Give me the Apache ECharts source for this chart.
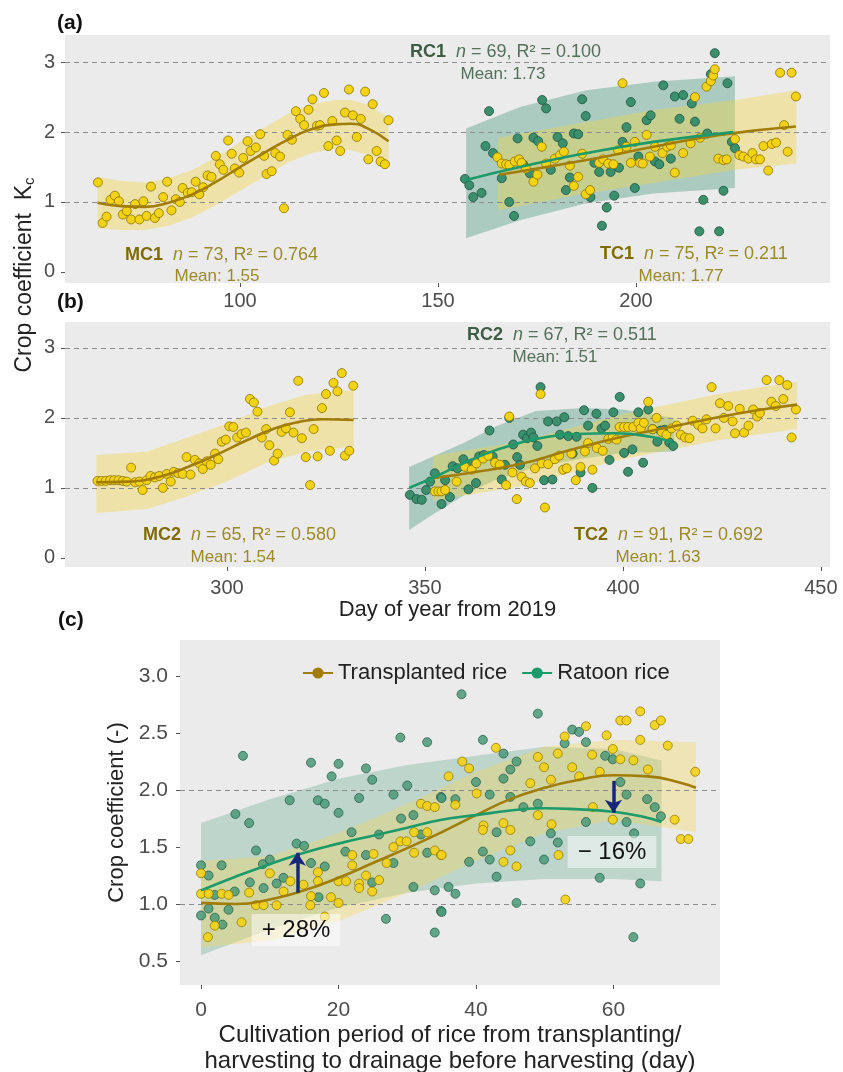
<!DOCTYPE html>
<html>
<head>
<meta charset="utf-8">
<script src="https://cdn.jsdelivr.net/npm/echarts@6/dist/echarts.min.js"></script>
<style>
  html, body { margin: 0; padding: 0; background: #fff; }
  #chart { width: 843px; height: 1072px; }
</style>
</head>
<body>
<div id="chart"></div>
<script>
// ---- panel (a): points [day, Kc] ----
var mc1Points = [[64.1,1.28],[65.3,0.70],[66.3,0.79],[67.3,1.03],[68.4,1.09],[69.4,1.01],[70.4,0.82],[71.4,0.87],[72.5,0.75],[73.5,0.97],[74.6,0.75],[75.6,1.01],[76.4,0.80],[77.5,1.22],[78.5,0.77],[79.5,0.84],[80.6,1.07],[81.6,1.29],[82.7,0.88],[83.8,1.04],[84.8,1.00],[85.5,1.20],[86.8,1.13],[87.8,1.14],[88.8,1.29],[89.7,1.11],[90.7,1.21],[91.8,1.38],[92.8,1.36],[93.9,1.66],[94.9,1.54],[95.8,1.46],[97.0,1.88],[97.9,1.69],[98.7,1.48],[99.8,1.42],[100.8,1.63],[101.9,1.87],[102.7,1.73],[104.0,1.78],[105.1,1.97],[106.1,1.66],[106.7,1.40],[108.0,1.44],[108.9,1.70],[110.1,1.65],[111.1,0.91],[112.0,1.96],[113.1,1.89],[114.1,2.30],[115.2,2.19],[116.2,2.10],[117.3,2.32],[118.3,2.47],[119.4,2.09],[120.2,2.10],[121.2,2.56],[122.3,1.80],[123.3,2.16],[124.4,1.88],[125.3,1.73],[126.5,2.28],[127.5,2.61],[128.5,2.24],[129.5,1.93],[130.5,2.19],[131.6,2.58],[132.4,1.61],[133.5,2.40],[134.5,1.73],[135.5,1.58],[136.6,1.54],[137.5,2.17]];
var rc1Points = [[156.8,1.33],[157.9,1.24],[158.9,1.07],[161.0,1.13],[162.0,1.80],[162.9,2.30],[163.9,1.70],[166.1,1.34],[168.0,1.00],[169.2,0.80],[170.1,1.91],[171.5,1.54],[173.2,1.41],[174.1,1.92],[175.3,1.87],[176.3,2.46],[177.3,2.34],[178.5,1.46],[180.2,1.93],[181.5,1.84],[182.3,1.17],[183.3,1.35],[184.3,1.98],[185.4,1.97],[186.4,2.47],[187.3,2.23],[188.5,1.07],[189.5,1.56],[190.7,1.43],[191.4,0.66],[192.6,0.92],[193.6,1.43],[194.5,1.09],[195.7,1.49],[196.6,1.86],[197.6,2.07],[198.7,2.43],[199.7,1.20],[200.6,1.65],[202.7,2.17],[203.7,2.24],[204.8,1.58],[205.9,1.54],[206.9,2.67],[208.8,1.62],[209.8,2.51],[211.0,2.19],[211.9,2.53],[214.1,2.41],[214.9,2.15],[216.0,0.58],[217.0,1.03],[218.0,1.98],[218.9,2.83],[219.9,3.13],[221.0,0.58],[222.1,1.16],[223.1,2.70],[224.2,1.86],[225.0,1.77]];
var tc1Points = [[165.0,1.64],[166.1,1.55],[167.2,1.54],[168.0,1.53],[169.4,1.58],[170.5,1.61],[171.1,1.56],[172.2,1.48],[174.1,1.29],[175.1,1.39],[176.2,1.79],[177.3,1.55],[179.5,1.62],[180.8,1.67],[181.8,1.72],[183.3,1.52],[184.3,1.23],[185.4,1.36],[186.4,1.69],[187.3,1.11],[188.4,1.17],[190.7,1.56],[191.7,1.61],[193.0,1.55],[194.3,1.54],[195.5,1.74],[196.6,2.70],[197.6,1.79],[198.7,1.56],[199.7,1.86],[201.0,1.56],[201.7,1.55],[202.7,1.96],[203.5,1.65],[204.8,1.79],[206.7,1.70],[207.9,1.79],[208.8,1.81],[209.8,1.42],[211.9,1.70],[213.8,1.84],[214.9,2.50],[216.2,1.92],[217.8,2.65],[218.9,2.73],[219.5,2.81],[219.9,2.90],[220.8,1.62],[222.1,1.60],[222.9,1.61],[225.0,1.90],[226.1,1.67],[227.1,1.65],[228.4,1.62],[229.4,1.70],[230.3,1.61],[231.3,1.61],[232.2,1.80],[233.4,1.45],[234.3,1.83],[235.4,1.85],[236.4,2.85],[237.4,2.10],[238.3,1.72],[239.3,2.85],[240.4,2.51]];

// ---- panel (a): fitted curves [day, Kc] and bands [day, low, high] ----
var mc1Fit = [[64,0.99],[70,0.94],[76,0.93],[82,0.99],[88,1.11],[94,1.29],[100,1.50],[106,1.70],[112,1.89],[118,2.04],[124,2.11],[128,2.12],[132,2.06],[137.5,1.87]];
var mc1Band = [[64,0.62,1.36],[70,0.60,1.30],[76,0.60,1.28],[82,0.66,1.34],[88,0.78,1.46],[94,0.96,1.64],[100,1.16,1.86],[106,1.36,2.06],[112,1.56,2.26],[118,1.70,2.40],[124,1.76,2.46],[128,1.74,2.46],[132,1.68,2.40],[137.5,1.53,2.21]];
var rc1Fit = [[156.8,1.31],[170.7,1.50],[187.5,1.70],[204.4,1.86],[224.6,2.00]];
var rc1Band = [[157.1,0.48,2.05],[170.7,0.74,2.36],[187.5,0.98,2.60],[204.4,1.12,2.72],[225.0,1.20,2.80]];
var tc1Fit = [[165.5,1.39],[187.5,1.60],[204.4,1.79],[221.2,1.96],[240.4,2.08]];
var tc1Band = [[165.2,0.88,1.92],[185,1.10,2.12],[205,1.28,2.32],[225,1.46,2.46],[240.5,1.55,2.60]];

// ---- panel (b) ----
var mc2Points = [[267.3,1.10],[268.3,1.10],[269.4,1.10],[270.5,1.11],[271.5,1.11],[272.6,1.11],[273.7,1.10],[274.7,1.09],[275.8,1.29],[276.8,1.08],[277.9,1.09],[278.7,0.97],[279.7,1.11],[280.7,1.17],[281.8,1.15],[282.9,1.17],[283.8,1.00],[284.8,1.20],[285.8,1.09],[286.6,1.23],[287.7,1.21],[288.8,1.20],[289.8,1.44],[290.8,1.19],[291.9,1.40],[293.0,1.35],[293.9,1.27],[294.9,1.38],[295.9,1.33],[297.0,1.49],[297.8,1.41],[298.7,1.66],[299.7,1.69],[300.6,1.88],[301.6,1.87],[302.6,1.72],[303.7,1.77],[304.8,1.79],[305.8,2.27],[306.8,2.22],[307.7,2.09],[308.8,1.72],[309.9,1.84],[310.7,1.61],[311.9,1.39],[312.8,1.49],[313.8,1.80],[314.9,1.85],[315.9,2.08],[316.8,1.79],[318.0,2.53],[318.9,1.71],[319.9,1.44],[321.0,1.04],[321.9,1.84],[322.9,1.45],[324.0,2.14],[325.0,2.34],[326.0,1.53],[326.9,2.50],[327.9,2.38],[329.0,2.64],[329.8,1.46],[330.9,1.53],[331.9,2.46]];
var rc2Points = [[346.2,0.90],[347.9,0.84],[349.2,0.83],[350.3,0.97],[351.3,1.09],[352.5,1.21],[354.2,0.77],[355.1,1.11],[356.3,0.87],[357.0,1.31],[358.2,1.28],[359.7,1.41],[361.0,0.98],[361.8,1.34],[362.9,1.07],[363.7,1.45],[364.9,1.47],[366.3,1.82],[367.1,1.45],[369.4,1.12],[370.2,1.33],[371.3,2.00],[372.3,1.62],[373.3,1.44],[374.0,1.33],[374.8,1.76],[375.8,1.71],[376.8,1.79],[377.4,1.72],[378.4,1.60],[379.2,2.44],[380.1,1.11],[381.1,1.95],[382.2,1.12],[383.3,1.95],[384.1,1.76],[385.2,2.01],[386.2,1.74],[387.3,1.49],[388.3,1.73],[389.3,1.22],[390.2,2.11],[391.2,1.89],[392.3,1.00],[393.3,2.06],[394.6,1.85],[395.5,1.89],[396.6,1.40],[397.6,2.08],[399.2,2.30],[400.3,1.50],[401.3,1.23],[402.4,1.55],[403.9,2.08],[405.1,1.36],[406.4,2.12],[407.5,1.84],[408.7,1.66],[409.5,1.82],[410.6,1.83],[411.7,1.65],[412.7,1.60]];
var tc2Points = [[352.5,0.95],[353.4,0.95],[354.2,0.95],[355.1,0.97],[358.0,1.09],[360.1,1.30],[361.8,1.26],[363.0,1.35],[364.7,1.42],[366.0,1.46],[367.7,1.36],[368.9,1.33],[370.5,1.04],[371.3,2.02],[372.1,1.22],[373.2,0.84],[374.4,1.16],[375.5,1.09],[376.5,1.07],[377.8,1.28],[379.2,2.34],[379.5,1.35],[380.3,0.72],[381.1,1.34],[382.8,1.41],[383.9,1.46],[384.9,1.26],[385.8,1.28],[387.0,1.49],[388.1,1.11],[389.3,1.30],[390.4,1.52],[391.2,1.64],[392.3,1.26],[393.4,1.57],[394.9,1.53],[396.3,1.70],[397.4,1.72],[398.4,1.69],[399.2,1.87],[400.3,1.87],[401.3,1.87],[402.6,1.87],[403.9,1.93],[404.5,1.85],[405.3,1.93],[406.4,2.23],[407.5,1.84],[408.5,2.00],[409.8,1.80],[411.0,1.76],[412.3,1.85],[413.6,1.89],[414.6,1.76],[415.7,1.72],[416.8,1.71],[417.6,1.96],[419.0,1.90],[420.1,1.85],[421.1,1.98],[422.4,2.44],[423.4,1.85],[424.5,2.21],[425.5,2.00],[426.6,2.17],[427.7,1.95],[428.3,1.78],[429.5,2.13],[430.6,1.79],[431.7,1.89],[432.9,2.12],[433.9,2.02],[434.6,2.07],[436.3,2.54],[437.5,2.23],[438.6,2.17],[439.5,2.54],[440.5,2.27],[441.5,2.47],[442.6,1.72],[443.7,2.12]];
var mc2Fit = [[267,1.08],[275,1.09],[283,1.16],[291,1.32],[298,1.49],[305,1.68],[312,1.85],[318,1.94],[324,1.98],[332,1.97]];
var mc2Band = [[267,0.64,1.47],[280,0.70,1.52],[290,0.88,1.72],[300,1.09,1.92],[310,1.36,2.16],[320,1.52,2.33],[332,1.59,2.40]];
var rc2Fit = [[346,1.00],[353,1.17],[360,1.36],[366,1.50],[372,1.61],[378,1.70],[388,1.77],[398,1.78],[407,1.73],[413,1.64]];
var rc2Band = [[346,0.40,1.30],[352,0.62,1.45],[360,0.90,1.65],[368,1.12,1.88],[378,1.30,2.10],[390,1.42,2.14],[400,1.50,2.12],[413,1.52,2.00]];
var tc2Fit = [[352,1.14],[362,1.22],[374,1.34],[386,1.53],[399,1.72],[412,1.87],[424,2.01],[434,2.11],[444,2.19]];
var tc2Band = [[352,0.82,1.46],[374,1.02,1.66],[399,1.40,2.04],[424,1.68,2.34],[444,1.84,2.52]];

// ---- panel (c): days since start ----
var transPoints = [[0,1.27],[0,1.09],[1,0.71],[1.1,1.09],[2,0.81],[3,1.09],[4,1.08],[5.9,0.84],[7,1.10],[8,0.99],[9.1,0.99],[10,1.27],[11,0.99],[12,1.11],[13,1.20],[14.9,1.17],[15.9,0.99],[16,1.07],[17,1.28],[17,1.20],[18,0.89],[18.9,1.06],[20,1.01],[20,1.20],[21.1,1.20],[22,1.43],[22,1.34],[23,1.18],[23,1.14],[24,1.25],[24.9,1.11],[25.1,1.44],[25.9,1.21],[27,1.36],[28,1.50],[29,1.55],[29.9,1.55],[31,1.45],[31,1.63],[32,1.88],[32.9,1.86],[32.9,1.63],[34,1.85],[34,1.47],[34.9,1.43],[35,1.43],[36,2.12],[37,1.87],[38,2.25],[39,2.19],[40.1,1.97],[41.1,1.69],[41,1.65],[42.9,2.37],[44,1.71],[44,1.37],[45,1.65],[45,1.47],[45.9,1.33],[47.9,2.06],[49,2.29],[49,1.78],[49.9,2.20],[50.9,2.09],[51,1.70],[51.9,2.32],[52,1.43],[52.9,2.47],[53,1.04],[54,2.20],[55,2.12],[56,2.56],[56.9,2.31],[57,1.85],[58,2.16],[59,2.48],[59.9,2.36],[59.9,1.74],[61,2.61],[61,2.27],[61.9,2.61],[62.9,2.26],[63.9,2.69],[63.9,2.44],[65,2.18],[66,2.57],[66.9,2.61],[67.9,2.39],[68.9,1.74],[69.8,1.57],[70.9,1.57],[71.9,2.16]];
var ratoonPoints = [[0,1.34],[0,0.90],[1.1,1.25],[1.1,0.96],[2,1.08],[2,0.88],[3,1.34],[3.1,0.82],[4,0.95],[4.9,1.11],[5,1.79],[6.1,2.30],[7,1.71],[7.1,1.19],[8,1.47],[9,1.35],[9.1,1.14],[10,1.39],[11,1.18],[12,1.23],[12.9,1.91],[13.9,1.53],[15,1.51],[16,2.24],[16,1.36],[17,1.91],[17.1,1.06],[18,1.88],[18,1.33],[19,2.12],[20,2.23],[20,1.80],[21,1.46],[21.9,1.63],[23,1.93],[24,2.19],[24,1.43],[24.9,2.09],[24.9,1.19],[25.9,1.61],[26.9,0.87],[28,1.96],[28,1.36],[29,2.46],[29.1,1.75],[30,2.04],[30.9,1.78],[30.9,1.15],[32,1.61],[32.9,2.42],[32.9,1.45],[34,1.12],[34,0.75],[34.9,1.94],[34.9,0.94],[35,1.93],[35,0.93],[36,1.15],[37,1.09],[37,1.92],[37.9,2.84],[39,1.37],[40,2.07],[41,2.44],[41,1.46],[42,1.96],[42,1.39],[43,1.63],[43,1.24],[44,2.32],[44,2.10],[45,2.18],[45,1.94],[45.9,2.25],[45.9,1.01],[46.9,1.85],[47.9,1.55],[49,2.67],[49,1.88],[49.9,1.39],[50.9,1.62],[51.9,1.54],[52.9,2.41],[54,2.53],[55,2.51],[56,2.42],[56,1.72],[58,1.23],[58.8,2.30],[59.9,2.27],[61,2.07],[61.9,1.96],[61.9,1.72],[62.9,0.71],[63,1.62],[63.9,1.18],[64.9,1.92],[66,1.85],[66.9,1.77]];
var transFit = [[0,1.01],[5,1.00],[10,1.04],[15,1.12],[20,1.23],[25,1.36],[30,1.49],[35,1.63],[40,1.78],[45,1.92],[50,2.02],[55,2.09],[60,2.13],[65,2.12],[70,2.06],[72,2.02]];
var ratoonFit = [[0,1.12],[5,1.24],[10,1.35],[15,1.45],[20,1.53],[25,1.60],[30,1.67],[35,1.74],[40,1.78],[45,1.82],[50,1.84],[55,1.83],[60,1.81],[64,1.77],[67,1.72]];
var transBand = [[0,0.62,1.38],[10,0.68,1.42],[20,0.85,1.62],[30,1.10,1.88],[40,1.38,2.16],[50,1.62,2.38],[60,1.74,2.44],[72,1.63,2.42]];
var ratoonBand = [[0,0.55,1.71],[10,0.78,1.92],[20,0.97,2.10],[30,1.10,2.22],[40,1.18,2.30],[50,1.22,2.38],[60,1.22,2.36],[67,1.20,2.26]];

// tick values
var ticksA = [100, 150, 200];
var ticksB = [300, 350, 400, 450];
var ticksC = [0, 20, 40, 60];
var kcTicks = [0, 1, 2, 3];
var kcTicksC = [0.5, 1.0, 1.5, 2.0, 2.5, 3.0];

var FONT = 'Liberation Sans';
var YEL = '#F4D214', YEL_EDGE = '#8a7300';
var GRN = '#3a8f6c', GRN_EDGE = '#1d5240';
var OLIVE_LINE = '#A17D05', GREEN_LINE = '#1c9a6a';
var YEL_BAND = 'rgba(245, 214, 60, 0.38)';
var GRN_BAND = 'rgba(45, 140, 105, 0.33)';

function scatter(name, pts, fill, edge, gi, op) {
  return {
    name: name, type: 'scatter', xAxisIndex: gi, yAxisIndex: gi, data: pts,
    symbolSize: 9, z: 3, silent: true,
    itemStyle: { color: fill, borderColor: edge, borderWidth: 0.8, opacity: op || 1 }
  };
}
function fitLine(name, pts, color, gi) {
  return {
    name: name, type: 'line', xAxisIndex: gi, yAxisIndex: gi, data: pts,
    smooth: true, symbol: 'circle', showSymbol: false, symbolSize: 8, z: 4, silent: true,
    lineStyle: { color: color, width: 2.6 }, itemStyle: { color: color }
  };
}
function band(pts, fill, gi) {
  return {
    type: 'custom', xAxisIndex: gi, yAxisIndex: gi, z: 1, silent: true,
    data: [[pts[0][0], pts[0][1]]],
    renderItem: function (params, api) {
      var up = pts.map(function (d) { return api.coord([d[0], d[2]]); });
      var lo = pts.slice().reverse().map(function (d) { return api.coord([d[0], d[1]]); });
      return { type: 'polygon', shape: { points: up.concat(lo) }, style: { fill: fill } };
    }
  };
}
function refLines(gi, vals) {
  return {
    type: 'line', xAxisIndex: gi, yAxisIndex: gi, data: [], z: 2, silent: true,
    markLine: {
      silent: true, z: 2, symbol: 'none', label: { show: false },
      lineStyle: { color: '#8c8c8c', type: [5, 4], width: 1 },
      data: vals.map(function (v) { return { yAxis: v }; })
    }
  };
}
function xAxis(gi, min, max, ticks, fs, margin) {
  return {
    gridIndex: gi, type: 'value', min: min, max: max,
    axisLine: { show: false, onZero: false }, splitLine: { show: false },
    axisTick: { show: true, length: 4, lineStyle: { color: '#555' }, customValues: ticks },
    axisLabel: { customValues: ticks, fontSize: fs, color: '#4d4d4d', fontFamily: FONT, margin: margin }
  };
}
function yAxis(gi, min, max, ticks, fs, margin, fmt) {
  return {
    gridIndex: gi, type: 'value', min: min, max: max,
    axisLine: { show: false, onZero: false }, splitLine: { show: false },
    axisTick: { show: true, length: 4, lineStyle: { color: '#555' }, customValues: ticks },
    axisLabel: { customValues: ticks, fontSize: fs, color: '#4d4d4d', fontFamily: FONT, margin: margin, formatter: fmt }
  };
}
function label(x, y, tag, rest, dark, light) {
  return {
    type: 'text', x: x, y: y,
    style: {
      text: '{b|' + tag + '}  ' + rest, fill: light, fontSize: 18, fontFamily: FONT,
      verticalAlign: 'middle', textVerticalAlign: 'middle',
      rich: { b: { fontWeight: 'bold', fill: dark, fontSize: 18, fontFamily: FONT }, i: { fontStyle: 'italic', fill: light, fontSize: 18, fontFamily: FONT } }
    }
  };
}
function meanText(cx, y, txt, color) {
  return {
    type: 'text', x: cx, y: y,
    style: { text: txt, fill: color, fontSize: 17, fontFamily: FONT, align: 'center', textAlign: 'center', verticalAlign: 'middle', textVerticalAlign: 'middle' }
  };
}
function tag(x, y, txt) {
  return { type: 'text', x: x, y: y, style: { text: txt, fontSize: 21, fontWeight: 'bold', fontFamily: FONT, fill: '#111', verticalAlign: 'middle', textVerticalAlign: 'middle' } };
}

var OL_D = '#7f6b00', OL_L = '#9b8a2a', GR_D = '#3d5c43', GR_L = '#52705a';

var chart = echarts.init(document.getElementById('chart'));
var option = {
  backgroundColor: '#fff',
  animation: false,
  grid: [
    { left: 65, top: 35, width: 765, height: 248, show: true, backgroundColor: '#EBEBEB', borderWidth: 0, outerBoundsMode: 'none' },
    { left: 65, top: 322, width: 765, height: 245, show: true, backgroundColor: '#EBEBEB', borderWidth: 0, outerBoundsMode: 'none' },
    { left: 180, top: 640, width: 540, height: 345, show: true, backgroundColor: '#EBEBEB', borderWidth: 0, outerBoundsMode: 'none' }
  ],
  xAxis: [
    xAxis(0, 55.8, 249, ticksA, 20, 8),
    Object.assign(xAxis(1, 259.1, 452.3, ticksB, 20, 11), {
      name: 'Day of year from 2019', nameLocation: 'middle', nameGap: 31,
      nameTextStyle: { fontSize: 22, color: '#222', fontFamily: FONT }
    }),
    Object.assign(xAxis(2, -3.06, 75.5, ticksC, 21, 15), {
      name: 'Cultivation period of rice from transplanting/\nharvesting to drainage before harvesting (day)',
      nameLocation: 'middle', nameGap: 35,
      nameTextStyle: { fontSize: 24, color: '#222', fontFamily: FONT, lineHeight: 26 }
    })
  ],
  yAxis: [
    yAxis(0, -0.16, 3.39, kcTicks, 20, 10),
    yAxis(1, -0.13, 3.37, kcTicks, 20, 10),
    Object.assign(yAxis(2, 0.29, 3.316, kcTicksC, 21, 12, function (v) { return v.toFixed(1); }), {
      name: 'Crop coefficient (-)', nameLocation: 'middle', nameGap: 47,
      nameTextStyle: { fontSize: 22, color: '#222', fontFamily: FONT }
    })
  ],
  legend: {
    data: ['Transplanted rice', 'Ratoon rice'],
    left: 297, top: 657, itemWidth: 30, itemHeight: 14, itemGap: 14,
    selectedMode: false,
    textStyle: { fontSize: 22, color: '#222', fontFamily: FONT }
  },
  graphic: [
    tag(57, 23, '(a)'),
    tag(57, 302, '(b)'),
    tag(58, 620, '(c)'),
    {
      type: 'text', x: 25, y: 275, rotation: Math.PI / 2,
      style: {
        text: 'Crop coefficient  K{s|c}', fontSize: 23, fontFamily: FONT, fill: '#222',
        align: 'center', textAlign: 'center', verticalAlign: 'middle', textVerticalAlign: 'middle',
        rich: { s: { fontSize: 15, fontFamily: FONT, fill: '#222', verticalAlign: 'bottom', padding: [9, 0, 0, 0] } }
      }
    },
    // tinted squares behind the legend keys
    { type: 'rect', shape: { x: 296, y: 656, width: 27, height: 28 }, style: { fill: 'rgba(245, 214, 60, 0.35)' }, z: -1 },
    { type: 'rect', shape: { x: 522, y: 656, width: 27, height: 28 }, style: { fill: 'rgba(45, 140, 105, 0.25)' }, z: -1 },
    label(125, 255, 'MC1', '{i|n} = 73, R² = 0.764', OL_D, OL_L),
    meanText(217, 276, 'Mean: 1.55', OL_L),
    label(410, 52, 'RC1', '{i|n} = 69, R² = 0.100', GR_D, GR_L),
    meanText(503, 74, 'Mean: 1.73', GR_L),
    label(600, 254, 'TC1', '{i|n} = 75, R² = 0.211', OL_D, OL_L),
    meanText(681, 276, 'Mean: 1.77', OL_L),
    label(467, 335, 'RC2', '{i|n} = 67, R² = 0.511', GR_D, GR_L),
    meanText(555, 357, 'Mean: 1.51', GR_L),
    label(143, 535, 'MC2', '{i|n} = 65, R² = 0.580', OL_D, OL_L),
    meanText(233, 557, 'Mean: 1.54', OL_L),
    label(574, 535, 'TC2', '{i|n} = 91, R² = 0.692', OL_D, OL_L),
    meanText(658, 557, 'Mean: 1.63', OL_L),
    {
      type: 'text', x: 296, y: 930, z: 20,
      style: { text: '+ 28%', fontSize: 24, fontFamily: FONT, fill: '#111', align: 'center', textAlign: 'center', verticalAlign: 'middle', textVerticalAlign: 'middle', backgroundColor: 'rgba(255,255,255,0.5)', padding: [4, 10] }
    },
    {
      type: 'text', x: 612, y: 852, z: 20,
      style: { text: '− 16%', fontSize: 24, fontFamily: FONT, fill: '#111', align: 'center', textAlign: 'center', verticalAlign: 'middle', textVerticalAlign: 'middle', backgroundColor: 'rgba(255,255,255,0.5)', padding: [4, 10] }
    }
  ],
  series: [
    // panel (a)
    band(rc1Band, GRN_BAND, 0),
    band(tc1Band, YEL_BAND, 0),
    band(mc1Band, YEL_BAND, 0),
    refLines(0, [1, 2, 3]),
    scatter('RC1', rc1Points, GRN, GRN_EDGE, 0),
    scatter('TC1', tc1Points, YEL, YEL_EDGE, 0),
    scatter('MC1', mc1Points, YEL, YEL_EDGE, 0),
    fitLine('MC1 fit', mc1Fit, OLIVE_LINE, 0),
    fitLine('TC1 fit', tc1Fit, OLIVE_LINE, 0),
    fitLine('RC1 fit', rc1Fit, GREEN_LINE, 0),
    // panel (b)
    band(rc2Band, GRN_BAND, 1),
    band(tc2Band, YEL_BAND, 1),
    band(mc2Band, YEL_BAND, 1),
    refLines(1, [1, 2, 3]),
    scatter('RC2', rc2Points, GRN, GRN_EDGE, 1),
    scatter('TC2', tc2Points, YEL, YEL_EDGE, 1),
    scatter('MC2', mc2Points, YEL, YEL_EDGE, 1),
    fitLine('MC2 fit', mc2Fit, OLIVE_LINE, 1),
    fitLine('TC2 fit', tc2Fit, OLIVE_LINE, 1),
    fitLine('RC2 fit', rc2Fit, GREEN_LINE, 1),
    // panel (c)
    band(ratoonBand, 'rgba(60, 150, 115, 0.26)', 2),
    band(transBand, 'rgba(242, 214, 80, 0.34)', 2),
    refLines(2, [1, 2]),
    scatter('Ratoon points', ratoonPoints, '#4a9a78', GRN_EDGE, 2, 0.85),
    scatter('Transplanted points', transPoints, YEL, YEL_EDGE, 2, 0.9),
    fitLine('Transplanted rice', transFit, OLIVE_LINE, 2),
    fitLine('Ratoon rice', ratoonFit, GREEN_LINE, 2),
    {
      type: 'line', xAxisIndex: 2, yAxisIndex: 2, data: [], z: 10, silent: true,
      markLine: {
        silent: true, z: 10, symbol: ['none', 'arrow'], symbolSize: 13, label: { show: false },
        lineStyle: { color: '#17287a', width: 3.5, type: 'solid' },
        data: [
          [{ coord: [14, 1.10] }, { coord: [14, 1.45] }],
          [{ coord: [60, 2.08] }, { coord: [60, 1.80] }]
        ]
      }
    }
  ]
};
chart.setOption(option);
</script>
</body>
</html>
